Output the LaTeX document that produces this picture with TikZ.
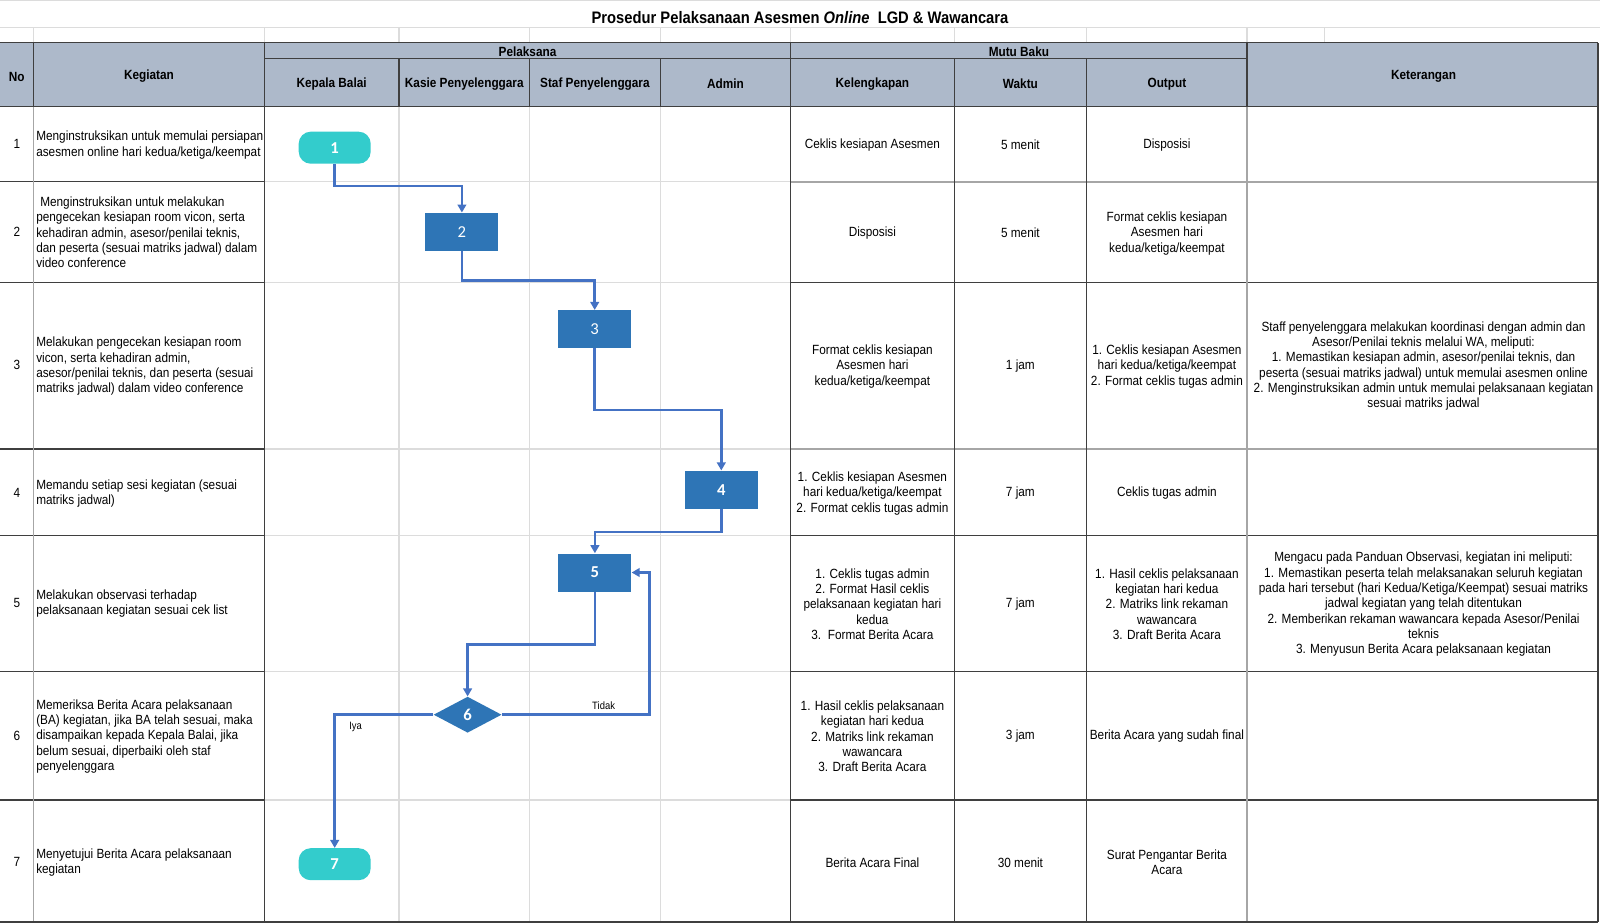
\documentclass[tikz,border=0pt]{standalone}
\usepackage{fontspec}
\setmainfont{Liberation Sans}[FakeStretch=0.885]
\newfontfamily\numfont{Carlito}
\usetikzlibrary{arrows.meta,shapes.geometric}
\definecolor{hdr}{HTML}{ADB9CA}
\definecolor{boxblue}{HTML}{2E75B6}
\definecolor{turq}{HTML}{33CCCC}
\definecolor{flowblue}{HTML}{4472C4}
\definecolor{darkline}{HTML}{3F3F3F}
\definecolor{midline}{HTML}{A6A6A6}
\definecolor{gridline}{HTML}{DCDCDC}
\begin{document}
\begin{tikzpicture}[x=0.75pt,y=-0.75pt,
  gridl/.style={draw=gridline,line width=0.8pt},
  dk/.style={draw=darkline,line width=0.8pt},
  midl/.style={draw=midline,line width=1.4pt},
  midv/.style={draw=midline,line width=0.9pt},
  body/.style={font=\fontsize{10}{11.5}\selectfont,inner sep=0pt,align=center},
  lbody/.style={body,align=left,anchor=west},
  head/.style={font=\fontsize{10}{12}\selectfont\bfseries,inner sep=0pt},
  procbox/.style={rectangle,fill=boxblue,minimum width=54.75pt,minimum height=28.5pt,inner sep=0pt,text=white,font=\numfont\fontsize{12.5}{14}\selectfont},
  termbox/.style={rectangle,rounded corners=9pt,fill=turq,minimum width=54pt,minimum height=24pt,inner sep=0pt,text=white,font=\numfont\bfseries\fontsize{12.5}{14}\selectfont},
  decbox/.style={diamond,fill=boxblue,minimum width=51pt,minimum height=27pt,inner sep=0pt,text=white,font=\numfont\bfseries\fontsize{12.5}{14}\selectfont},
  flow/.style={draw=flowblue,line width=1.9pt,-{Triangle[length=6pt,width=6.5pt]}},
  flowlabel/.style={font=\fontsize{8}{9}\selectfont,inner sep=0pt}
]
\useasboundingbox (0,0) rectangle (1600,923);
\fill[white] (0,0) rectangle (1600,923);

% light sheet gridlines
\draw[gridl] (0,0.7) -- (1600,0.7);
\draw[gridl] (0,27.6) -- (1600,27.6);
\foreach \x in {33.7,264.3,399,529.6,660.2,790.8,954.1,1086.7,1247,1324.5}
  \draw[gridl] (\x,27.6) -- (\x,42.9);
\foreach \x in {399,529.6,660.2}
  \draw[gridl] (\x,106.1) -- (\x,922);
\foreach \y in {181.6,282.7,449,535.7,671.4,800}
  \draw[gridl] (264.3,\y) -- (790.8,\y);

% header fill
\fill[hdr] (0,42.9) rectangle (1598,106.1);

% body row separators
\foreach \y in {181.6,282.7,449,535.7,671.4,800}
  \draw[dk] (0,\y) -- (264.3,\y);
\draw[midl] (790.8,181.6) -- (1598,181.6);
\draw[dk] (790.8,282.7) -- (1598,282.7);
\draw[midl] (790.8,449) -- (1598,449);
\foreach \y in {535.7,671.4,800}
  \draw[dk] (790.8,\y) -- (1598,\y);

% body verticals
\draw[midv] (33.7,106.1) -- (33.7,922);
\foreach \x in {264.3,790.8,954.1,1086.7,1598}
  \draw[dk] (\x,106.1) -- (\x,922);
\draw[midv] (1247,106.1) -- (1247,922);
\draw[dk] (0,922) -- (1598,922);

% header lines
\draw[dk] (0,42.9) -- (1598,42.9);
\draw[dk] (0,106.1) -- (1598,106.1);
\draw[dk] (264.3,58.2) -- (1247,58.2);
\foreach \x in {33.7,264.3,790.8,1247,1598}
  \draw[dk] (\x,42.9) -- (\x,106.1);
\foreach \x in {399,529.6,660.2,954.1,1086.7}
  \draw[dk] (\x,58.2) -- (\x,106.1);

% title
\node[font=\fontsize{12.5}{15}\selectfont\bfseries,inner sep=0pt] (title) at (800,18)
  {Prosedur Pelaksanaan Asesmen \textit{Online}\ \ LGD \& Wawancara};

% header texts
\node[head] (hNo) at (16.8,76.5) {No};
\node[head] (hKeg) at (149,76.5) {Kegiatan};
\node[head] (hPel) at (527.5,51.5) {Pelaksana};
\node[head] (hKB) at (331.6,84) {Kepala Balai};
\node[head] (hKS) at (464.3,84) {Kasie Penyelenggara};
\node[head] (hSP) at (594.9,84) {Staf Penyelenggara};
\node[head] (hAd) at (725.5,84) {Admin};
\node[head] (hMB) at (1018.9,51.5) {Mutu Baku};
\node[head] (hKel) at (872.4,84) {Kelengkapan};
\node[head] (hWak) at (1020.4,84) {Waktu};
\node[head] (hOut) at (1166.9,84) {Output};
\node[head] (hKet) at (1423.5,76.5) {Keterangan};

% No column
\node[body] (no1) at (16.8,144) {1};
\node[body] (no2) at (16.8,231.6) {2};
\node[body] (no3) at (16.8,365.3) {3};
\node[body] (no4) at (16.8,492.9) {4};
\node[body] (no5) at (16.8,603) {5};
\node[body] (no6) at (16.8,735.7) {6};
\node[body] (no7) at (16.8,861.5) {7};

% Kegiatan column
\node[lbody] (k1) at (36,145) {Menginstruksikan untuk memulai persiapan\\asesmen online hari kedua/ketiga/keempat};
\node[lbody] (k2) at (36,232.5) {\hspace*{3pt}Menginstruksikan untuk melakukan\\pengecekan kesiapan room vicon, serta\\kehadiran admin, asesor/penilai teknis,\\dan peserta (sesuai matriks jadwal) dalam\\video conference};
\node[lbody] (k3) at (36,366.5) {Melakukan pengecekan kesiapan room\\vicon, serta kehadiran admin,\\asesor/penilai teknis, dan peserta (sesuai\\matriks jadwal) dalam video conference};
\node[lbody] (k4) at (36,493.5) {Memandu setiap sesi kegiatan (sesuai\\matriks jadwal)};
\node[lbody] (k5) at (36,603.5) {Melakukan observasi terhadap\\pelaksanaan kegiatan sesuai cek list};
\node[lbody] (k6) at (36,736.5) {Memeriksa Berita Acara pelaksanaan\\(BA) kegiatan, jika BA telah sesuai, maka\\disampaikan kepada Kepala Balai, jika\\belum sesuai, diperbaiki oleh staf\\penyelenggara};
\node[lbody] (k7) at (36,862.5) {Menyetujui Berita Acara pelaksanaan\\kegiatan};

% Kelengkapan
\node[body] (kel1) at (872.4,145) {Ceklis kesiapan Asesmen};
\node[body] (kel2) at (872.4,233.3) {Disposisi};
\node[body] (kel3) at (872.4,366.5) {Format ceklis kesiapan\\Asesmen hari\\kedua/ketiga/keempat};
\node[body] (kel4) at (872.4,493.5) {1. Ceklis kesiapan Asesmen\\hari kedua/ketiga/keempat\\2. Format ceklis tugas admin};
\node[body] (kel5) at (872.4,604) {1. Ceklis tugas admin\\2. Format Hasil ceklis\\pelaksanaan kegiatan hari\\kedua\\3.\ \ Format Berita Acara};
\node[body] (kel6) at (872.4,736.5) {1. Hasil ceklis pelaksanaan\\kegiatan hari kedua\\2. Matriks link rekaman\\wawancara\\3. Draft Berita Acara};
\node[body] (kel7) at (872.4,862.5) {Berita Acara Final};

% Waktu
\node[body] (w1) at (1020.4,144.5) {5 menit};
\node[body] (w2) at (1020.4,233) {5 menit};
\node[body] (w3) at (1020.4,366.5) {1 jam};
\node[body] (w4) at (1020.4,493.5) {7 jam};
\node[body] (w5) at (1020.4,604) {7 jam};
\node[body] (w6) at (1020.4,736.5) {3 jam};
\node[body] (w7) at (1020.4,862.5) {30 menit};

% Output
\node[body] (o1) at (1166.9,145) {Disposisi};
\node[body] (o2) at (1166.9,233.3) {Format ceklis kesiapan\\Asesmen hari\\kedua/ketiga/keempat};
\node[body] (o3) at (1166.9,366.5) {1. Ceklis kesiapan Asesmen\\hari kedua/ketiga/keempat\\2. Format ceklis tugas admin};
\node[body] (o4) at (1166.9,493.5) {Ceklis tugas admin};
\node[body] (o5) at (1166.9,604) {1. Hasil ceklis pelaksanaan\\kegiatan hari kedua\\2. Matriks link rekaman\\wawancara\\3. Draft Berita Acara};
\node[body] (o6) at (1166.9,736.5) {Berita Acara yang sudah final};
\node[body] (o7) at (1166.9,862.5) {Surat Pengantar Berita\\Acara};

% Keterangan
\node[body] (ket3) at (1423.5,366) {Staff penyelenggara melakukan koordinasi dengan admin dan\\Asesor/Penilai teknis melalui WA, meliputi:\\1. Memastikan kesiapan admin, asesor/penilai teknis, dan\\peserta (sesuai matriks jadwal) untuk memulai asesmen online\\2. Menginstruksikan admin untuk memulai pelaksanaan kegiatan\\sesuai matriks jadwal};
\node[body] (ket5) at (1423.5,604.5) {Mengacu pada Panduan Observasi, kegiatan ini meliputi:\\1. Memastikan peserta telah melaksanakan seluruh kegiatan\\pada hari tersebut (hari Kedua/Ketiga/Keempat) sesuai matriks\\jadwal kegiatan yang telah ditentukan\\2. Memberikan rekaman wawancara kepada Asesor/Penilai\\teknis\\3. Menyusun Berita Acara pelaksanaan kegiatan};

% flow nodes
\node[termbox] (n1) at (334.7,147.7) {1};
\node[procbox] (n2) at (461.9,231.8) {2};
\node[procbox] (n3) at (594.7,329.2) {3};
\node[procbox,font=\numfont\bfseries\fontsize{12.5}{14}\selectfont] (n4) at (721.3,489.7) {4};
\node[procbox,font=\numfont\bfseries\fontsize{12.5}{14}\selectfont] (n5) at (594.9,572.5) {5};
\node[decbox] (n6) at (467.6,714.7) {6};
\node[termbox] (n7) at (334.7,864.2) {7};

% connectors
\draw[flow] (n1.south) -- ++(0,22) -| (n2.north);
\draw[flow] (n2.south) -- ++(0,29.5) -| (n3.north);
\draw[flow] (n3.south) -- ++(0,61.4) -| (n4.north);
\draw[flow] (n4.south) -- ++(0,23) -| (n5.north);
\draw[flow] (n5.south) -- ++(0,52.6) -| (n6.north);
\draw[flow] (n6.east) -- ++(147.5,0) |- (n5.east);
\draw[flow] (n6.west) -| (n7.north);
\node[flowlabel] (lTidak) at (603.6,705.5) {Tidak};
\node[flowlabel] (lIya) at (355.6,727) {Iya};
\end{tikzpicture}
\end{document}
